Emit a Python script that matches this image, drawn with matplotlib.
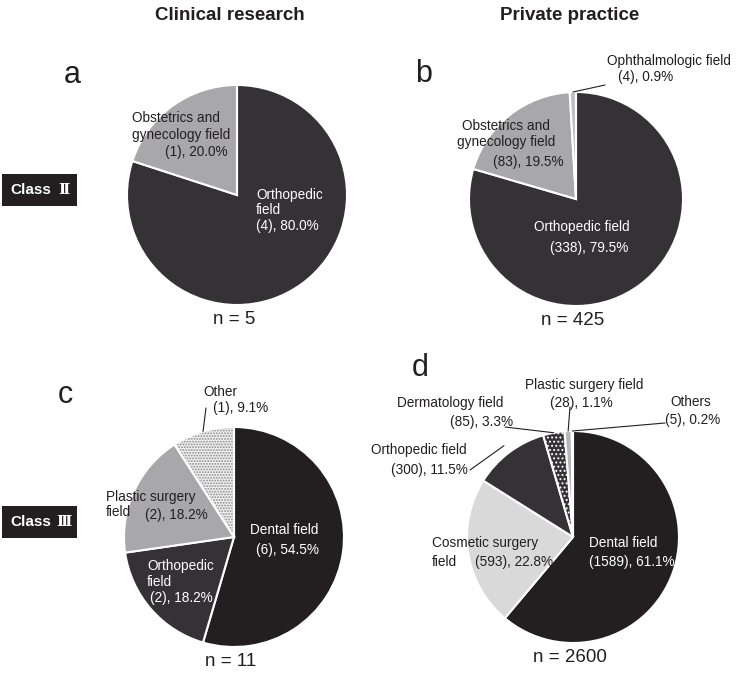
import numpy as np
import matplotlib
matplotlib.use("Agg")
from matplotlib import pyplot as plt
from matplotlib.patches import Rectangle, Wedge

plt.rcParams['font.family'] = ['Liberation Sans', 'Noto Sans CJK JP', 'DejaVu Sans']
plt.rcParams['hatch.linewidth'] = 0.9

# ---- data ----
col_titles = ["Clinical research", "Private practice"]
row_class = ["Class", "Class"]
row_numerals = ["\u2161", "\u2162"]
panel_letters = ["a", "b", "c", "d"]

a_names = ["Orthopedic\nfield", "Obstetrics and\ngynecology field"]
a_counts = [4, 1]

b_names = ["Orthopedic field", "Obstetrics and\ngynecology field", "Ophthalmologic field"]
b_counts = [338, 83, 4]

c_names = ["Dental field", "Orthopedic\nfield", "Plastic surgery\nfield", "Other"]
c_counts = [6, 2, 2, 1]

d_names = ["Dental field", "Cosmetic surgery\nfield", "Orthopedic field",
           "Dermatology field", "Plastic surgery field", "Others"]
d_counts = [1589, 593, 300, 85, 28, 5]

# ---- styles ----
DARK = '#231f20'
a_colors = ['#343235', '#a8a8aa']
b_colors = ['#343235', '#a8a8aa', '#bfc0c2']
c_colors = ['#231f20', '#343235', '#a8a8aa', '#f0f0f0']
d_colors = ['#231f20', '#d9d9da', '#343235', '#343235', '#b3b5b8', '#eeeeee']
c_hatch = [None, None, None, ('......', '#8a8a8a')]
d_hatch = [None, None, None, ('....', 'white'), None, None]

W, H = 738, 675
fig = plt.figure(figsize=(W / 100, H / 100), dpi=100)


def fx(x):
    return x / W


def fy(y):
    return 1 - y / H


# layout: center x, center y, radius (pixels)
geom = {'a': (237, 195, 110), 'b': (576, 199, 107), 'c': (234, 537, 110), 'd': (573, 537, 106)}

# label placement per wedge:
# (name x, first line y, ha, line gap, count x, count y, count ha, leader start or None, leader radius)
a_place = [(256, 195, 'left', 15.5, 256, 226, 'left', None, 1),
           (132, 118, 'left', 17, 165, 152, 'left', None, 1)]
b_place = [(534, 227, 'left', 16, 550, 248, 'left', None, 1),
           (506, 126, 'center', 16, 493, 162, 'left', None, 1),
           (607, 61, 'left', 16, 618, 77, 'left', (605, 85), 1)]
c_place = [(250, 530, 'left', 16, 256, 550, 'left', None, 1),
           (147, 566, 'left', 16.5, 150, 598, 'left', None, 1),
           (106, 497, 'left', 15.5, 145, 515, 'left', None, 1),
           (203, 392, 'left', 16, 213, 408, 'left', (206, 408), 1)]
d_place = [(589, 543, 'left', 16, 589, 562, 'left', None, 1),
           (432, 543, 'left', 19, 475, 562, 'left', None, 1),
           (467, 450, 'right', 16, 468, 470, 'right', (470, 470), 1.08),
           (397, 403, 'left', 16, 450, 422, 'left', (505, 427), 1),
           (525, 385, 'left', 16, 550, 403, 'left', (570, 407), 1),
           (670, 402, 'left', 16, 665, 420, 'left', (665, 423), 1)]

LBL = 9.8


def is_dark(c):
    r, g, b = matplotlib.colors.to_rgb(c)
    return 0.3 * r + 0.59 * g + 0.11 * b < 0.5


def draw_pie(key, names, counts, colors, place, hatches=None):
    cx, cy, r = geom[key]
    ax = fig.add_axes([(cx - r) / W, 1 - (cy + r) / H, 2 * r / W, 2 * r / H])
    wedges, _ = ax.pie(counts, colors=colors, startangle=90, counterclock=False, radius=1,
                       wedgeprops=dict(edgecolor='white', linewidth=1.5))
    ax.set_xlim(-1, 1)
    ax.set_ylim(-1, 1)
    ax.set_aspect('equal')
    ax.axis('off')
    if hatches:
        for w, h in zip(wedges, hatches):
            if h is None:
                continue
            w.set_hatch(h[0])
            if h[1] != 'white':
                # hatch takes the edge colour, so outline again on top in white
                w.set_edgecolor(h[1])
                w.set_linewidth(0)
                ax.add_patch(Wedge(w.center, w.r, w.theta1, w.theta2, facecolor='none',
                                   edgecolor='white', linewidth=1.5))
    total = sum(counts)
    for w, name, n, col, p in zip(wedges, names, counts, colors, place):
        nx, ny, nha, gap, px, py, pha, lead, k = p
        tc = 'white' if (is_dark(col) and lead is None) else DARK
        for i, line in enumerate(name.split('\n')):
            fig.text(fx(nx), fy(ny + i * gap), line, ha=nha, va='center', fontsize=LBL, color=tc)
        fig.text(fx(px), fy(py), f"({n}), {100 * n / total:.1f}%", ha=pha, va='center',
                 fontsize=LBL, color=tc)
        if lead is not None:
            t = np.deg2rad((w.theta1 + w.theta2) / 2)
            ax.annotate('', xy=(k * np.cos(t), k * np.sin(t)), xycoords='data',
                        xytext=(lead[0], H - lead[1]), textcoords='figure pixels',
                        arrowprops=dict(arrowstyle='-', color=DARK, lw=0.8, shrinkA=0, shrinkB=0),
                        annotation_clip=False)
    fig.text(fx(cx - 3), fy(cy + r + 15), f"n = {total}", ha='center', va='center',
             fontsize=13.5, color=DARK)


draw_pie('a', a_names, a_counts, a_colors, a_place)
draw_pie('b', b_names, b_counts, b_colors, b_place)
draw_pie('c', c_names, c_counts, c_colors, c_place, c_hatch)
draw_pie('d', d_names, d_counts, d_colors, d_place, d_hatch)

# column titles
for t, x in zip(col_titles, [230, 570]):
    fig.text(fx(x), fy(15), t, ha='center', va='center', fontsize=13.5, fontweight='bold', color=DARK)

# panel letters
for s, (x, y) in zip(panel_letters, [(72, 75), (424, 74), (65, 395), (420, 368)]):
    fig.text(fx(x), fy(y), s, ha='center', va='center', fontsize=22, color=DARK)

# class boxes
for t, num, yc in zip(row_class, row_numerals, [190, 522]):
    fig.add_artist(Rectangle((fx(2), fy(yc + 16)), 75 / W, 32 / H, transform=fig.transFigure,
                             facecolor=DARK, edgecolor='none'))
    fig.text(fx(10), fy(yc), t, ha='left', va='center', fontsize=11, fontweight='bold', color='white')
    fig.text(fx(64), fy(yc), num, ha='center', va='center', fontsize=11, fontweight='bold',
             color='white', family=['DejaVu Serif', 'DejaVu Sans'])

fig.savefig("out.png", dpi=100)
